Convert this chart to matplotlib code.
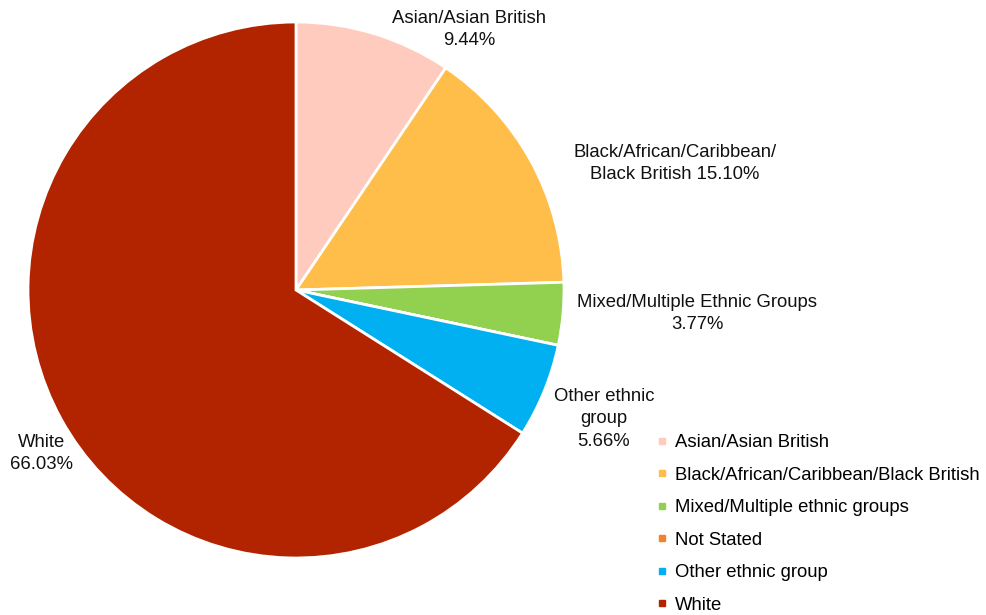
import matplotlib.pyplot as plt
from matplotlib.lines import Line2D

plt.rcParams['font.family'] = ['Liberation Sans', 'DejaVu Sans']

groups = ['Asian/Asian British', 'Black/African/Caribbean/Black British',
          'Mixed/Multiple ethnic groups', 'Not Stated', 'Other ethnic group', 'White']
shares = [9.44, 15.10, 3.77, 0.0, 5.66, 66.03]
colours = ['#FFCBBE', '#FFBD4A', '#92D050', '#F5822A', '#00B0F0', '#B22400']

# labels written next to the slices (Not Stated is empty, so no label)
slice_labels = ['Asian/Asian British\n{:.2f}%', 'Black/African/Caribbean/\nBlack British {:.2f}%',
                'Mixed/Multiple Ethnic Groups\n{:.2f}%', None, 'Other ethnic\ngroup\n{:.2f}%', 'White\n{:.2f}%']
label_pos = [(0.646, 0.972), (1.414, 0.472), (1.496, -0.088), None, (1.149, -0.481), (-0.951, -0.610)]

W, H = 987, 615
fig = plt.figure(figsize=(W / 100, H / 100), dpi=100)
cx, cy, r = 296, 290, 268
ax = fig.add_axes([(cx - r) / W, (H - cy - r) / H, 2 * r / W, 2 * r / H])

ax.pie(shares, colors=colours, startangle=90, counterclock=False, radius=1,
       wedgeprops=dict(edgecolor='white', linewidth=2))
ax.set_xlim(-1, 1)
ax.set_ylim(-1, 1)
ax.set_aspect('equal')
ax.set_axis_off()

for fmt, pos, val in zip(slice_labels, label_pos, shares):
    if fmt is None:
        continue
    ax.text(pos[0], pos[1], fmt.format(val), ha='center', va='center', fontsize=13.3,
            multialignment='center', linespacing=1.4, clip_on=False, color='#111111')

handles = [Line2D([], [], marker='s', linestyle='none', markersize=5,
                  markerfacecolor=c, markeredgecolor=c) for c in colours]
fig.legend(handles, groups, loc='upper left', bbox_to_anchor=(647 / W, 1 - 425 / H),
           frameon=False, fontsize=13.3, handlelength=0.6, handletextpad=0.4,
           labelspacing=0.84, borderpad=0)

fig.savefig('out.png', dpi=100)
